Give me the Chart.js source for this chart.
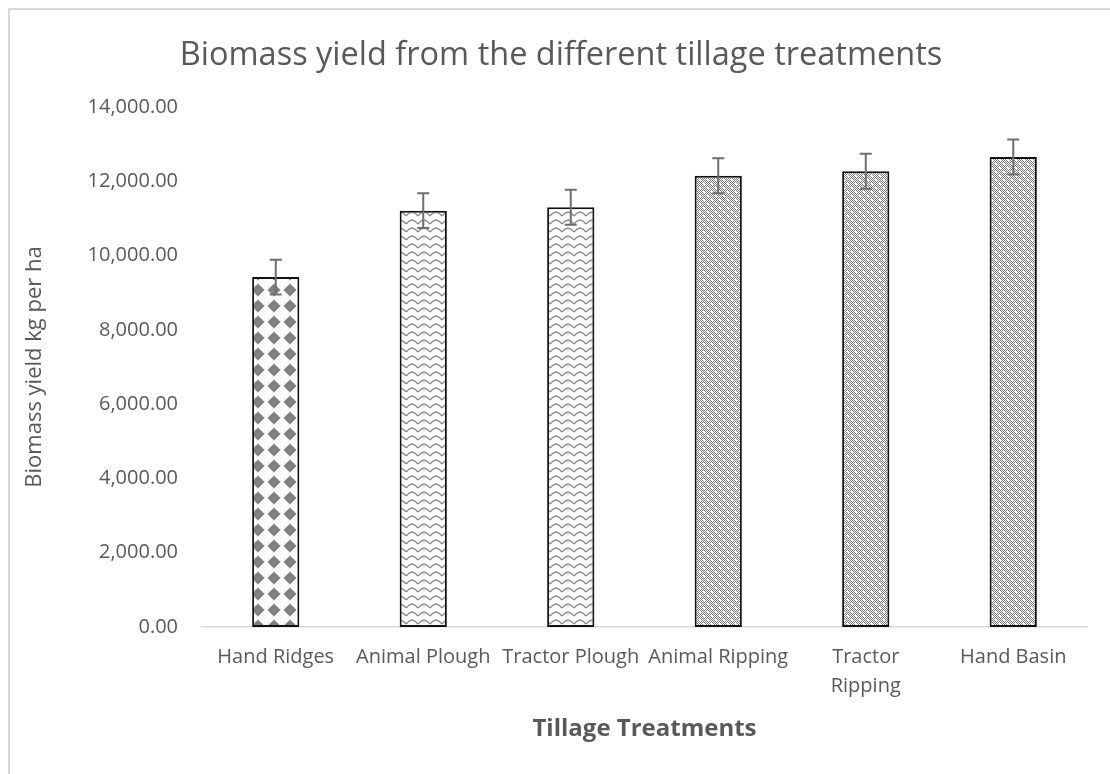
<!DOCTYPE html>
<html lang="en">
<head>
    <meta charset="UTF-8">
    <title>Biomass yield from the different tillage treatments</title>
    <script src="https://cdn.jsdelivr.net/npm/chart.js@4/dist/chart.umd.min.js"></script>
    <style>
        html, body { margin: 0; padding: 0; background: #fff; overflow: hidden; }
        #wrap {
            position: absolute; left: 8px; top: 8px;
            width: 1104px; height: 766px;
            box-sizing: border-box;
            border-left: 2px solid #d9d9d9;
            border-top: 2px solid #d9d9d9;
        }
    </style>
</head>
<body>
    <div id="wrap"><canvas id="biomass"></canvas></div>
    <script>
        // chart data
        const categories = ['Hand Ridges', 'Animal Plough', 'Tractor Plough', 'Animal Ripping', ['Tractor', 'Ripping'], 'Hand Basin'];
        const biomass = [9420, 11210, 11300, 12150, 12270, 12655];
        const errors = [470, 470, 470, 470, 470, 470];
        const yTicks = [0, 2000, 4000, 6000, 8000, 10000, 12000, 14000];

        const grey = '#595959';

        // fill patterns, roughly like the excel ones
        function makeTile(w, h, draw) {
            const c = document.createElement('canvas');
            c.width = w; c.height = h;
            const g = c.getContext('2d');
            g.fillStyle = '#fff';
            g.fillRect(0, 0, w, h);
            draw(g);
            return document.createElement('canvas').getContext('2d').createPattern(c, 'repeat');
        }

        const diamonds = makeTile(16, 16, g => {
            g.fillStyle = '#7f7f7f';
            g.beginPath();
            g.moveTo(8, 1.5); g.lineTo(14.5, 8); g.lineTo(8, 14.5); g.lineTo(1.5, 8);
            g.closePath();
            g.fill();
        });

        const waves = makeTile(12, 8, g => {
            g.strokeStyle = '#8c8c8c';
            g.lineWidth = 1.4;
            g.beginPath();
            g.moveTo(0, 6); g.lineTo(3, 3); g.lineTo(6, 2); g.lineTo(9, 3); g.lineTo(12, 6);
            g.stroke();
        });

        const checks = makeTile(8, 8, g => {
            g.fillStyle = '#7a7a7a';
            for (let y = 0; y < 8; y++) {
                for (let x = 0; x < 8; x++) {
                    if ((x + y) % 2 === 0) g.fillRect(x, y, 1, 1);
                }
            }
            g.fillStyle = '#fff';
            g.fillRect(1, 1, 2, 2);
            g.fillRect(5, 5, 2, 2);
        });

        const fills = [diamonds, waves, waves, checks, checks, checks];

        // error bars drawn with the chart's own scales
        const errorBars = {
            id: 'errorBars',
            afterDatasetsDraw(chart) {
                const ctx = chart.ctx;
                const yScale = chart.scales.y;
                const meta = chart.getDatasetMeta(0);
                ctx.save();
                ctx.strokeStyle = '#6e6e6e';
                ctx.lineWidth = 2;
                meta.data.forEach((bar, i) => {
                    const top = yScale.getPixelForValue(biomass[i] + errors[i]);
                    const bot = yScale.getPixelForValue(biomass[i] - errors[i]);
                    ctx.beginPath();
                    ctx.moveTo(bar.x, top); ctx.lineTo(bar.x, bot);
                    ctx.moveTo(bar.x - 6, top); ctx.lineTo(bar.x + 6, top);
                    ctx.moveTo(bar.x - 6, bot); ctx.lineTo(bar.x + 6, bot);
                    ctx.stroke();
                });
                ctx.restore();
            }
        };

        const ctx = document.getElementById('biomass').getContext('2d');
        new Chart(ctx, {
            type: 'bar',
            data: {
                labels: categories,
                datasets: [{
                    data: biomass,
                    backgroundColor: fills,
                    borderColor: '#111',
                    borderWidth: 2,
                    borderSkipped: false,
                    categoryPercentage: 1,
                    barPercentage: 0.32
                }]
            },
            options: {
                responsive: true,
                maintainAspectRatio: false,
                animation: false,
                layout: { padding: 0 },
                plugins: {
                    legend: { display: false },
                    tooltip: { enabled: false },
                    title: {
                        display: true,
                        text: 'Biomass yield from the different tillage treatments',
                        color: grey,
                        font: { family: 'Open Sans', size: 32.5, weight: 'normal', lineHeight: 1.2 },
                        padding: { top: 26, bottom: 32 }
                    }
                },
                scales: {
                    x: {
                        grid: { display: false, drawTicks: false },
                        border: { display: true, color: '#d9d9d9', width: 1.5 },
                        ticks: {
                            color: grey,
                            padding: 16,
                            maxRotation: 0,
                            autoSkip: false,
                            font: { family: 'Open Sans', size: 20, lineHeight: 1.45 }
                        },
                        title: {
                            display: true,
                            text: 'Tillage Treatments',
                            color: grey,
                            font: { family: 'Open Sans', size: 24, weight: 'bold', lineHeight: 1.2 },
                            padding: { top: 30, bottom: 30 }
                        },
                        afterFit(scale) { scale.height = 147; }
                    },
                    y: {
                        min: 0,
                        max: 14000,
                        afterBuildTicks(scale) { scale.ticks = yTicks.map(v => ({ value: v })); },
                        grid: { display: false, drawTicks: false },
                        border: { display: false },
                        ticks: {
                            color: grey,
                            padding: 24,
                            font: { family: 'Open Sans', size: 20 },
                            callback: v => v.toLocaleString('en-US', { minimumFractionDigits: 2, maximumFractionDigits: 2 })
                        },
                        title: {
                            display: true,
                            text: 'Biomass yield kg per ha',
                            color: grey,
                            font: { family: 'Open Sans', size: 22, lineHeight: 1.2 },
                            padding: { top: 12, bottom: 12 }
                        },
                        afterFit(scale) { scale.width = 192; }
                    },
                    // empty right gutter so the title stays centred on the whole chart
                    gutter: {
                        type: 'linear',
                        position: 'right',
                        display: true,
                        grid: { display: false, drawTicks: false },
                        border: { display: false },
                        ticks: { display: false },
                        afterFit(scale) { scale.width = 25; }
                    }
                }
            },
            plugins: [errorBars]
        });
    </script>
</body>
</html>
